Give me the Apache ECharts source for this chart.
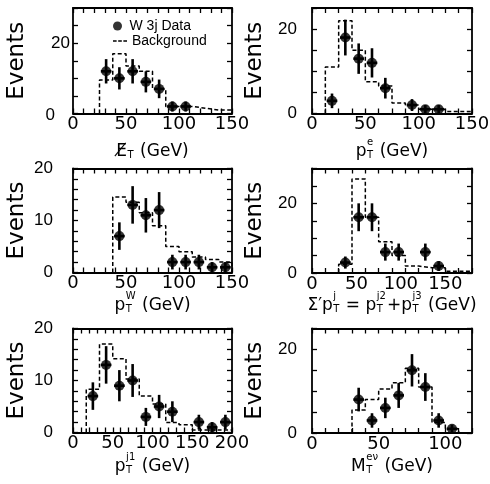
<!DOCTYPE html>
<html><head><meta charset="utf-8">
<script src="https://cdn.jsdelivr.net/npm/echarts@6/dist/echarts.min.js"></script>
<style>html,body{margin:0;padding:0;background:#fff}#c{width:490px;height:484px}</style>
</head><body><div id="c"></div>
<script>
// ---------------- DATA ----------------
// Panel 1: missing E_T
const met_binStart = 25, met_binWidth = 12.5;
const met_background = [9.5, 17, 13.5, 12, 7, 2, 2, 1.5, 1, 1];
const met_data = [12, 10, 12, 9, 7, 2, 2];
const met_xLabels = [0, 50, 100, 150];
const met_yLabels = [0, 20];
// Panel 2: electron pT
const pte_binStart = 12.5, pte_binWidth = 12.5;
const pte_background = [11, 22, 15, 7.5, 6.5, 2.5, 2, 1, 1, 0.5, 0.5];
const pte_data = [3, 18, 13, 12, 6, null, 2, 1, 1];
const pte_xLabels = [0, 50, 100, 150];
const pte_yLabels = [0, 20];
// Panel 3: W pT
const ptw_binStart = 37.5, ptw_binWidth = 12.5;
const ptw_background = [14.5, 13.5, 11.5, 9, 5, 4, 3, 2.5, 2];
const ptw_data = [7, 13, 11, 12, 2, 2, 2, 1, 1];
const ptw_xLabels = [0, 50, 100, 150];
const ptw_yLabels = [0, 10, 20];
// Panel 4: pT(j2)+pT(j3)
const sum_binStart = 30, sum_binWidth = 15;
const sum_background = [2.5, 27, 16, 9, 5, 2, 1.5, 1.5, 0.5, 0.5];
const sum_data = [3, 16, 16, 6, 6, null, 6, 2];
const sum_xLabels = [0, 50, 100, 150];
const sum_yLabels = [0, 20];
// Panel 5: leading jet pT
const ptj1_binStart = 200 / 12, ptj1_binWidth = 200 / 12;
const ptj1_background = [8.3, 17, 14.2, 10.3, 7, 5.5, 1.9, 1.5, 0.5, 0.5, 0.5];
const ptj1_data = [7, 13, 9, 10, 3, 5, 4, null, 2, 1, 2];
const ptj1_xLabels = [0, 50, 100, 150, 200];
const ptj1_yLabels = [0, 10, 20];
// Panel 6: transverse mass
const mt_binStart = 30, mt_binWidth = 10;
const mt_background = [5.5, 8, 10.5, 12, 15.5, 11, 2.5, 1];
const mt_data = [8, 3, 6, 9, 15, 11, 3, 1];
const mt_xLabels = [0, 50, 100];
const mt_yLabels = [0, 20];

const DATA_NAME = 'W 3j Data', BKG_NAME = 'Background';

// ---------------- LAYOUT ----------------
const panels = [
  {grid:[73,8,159,105.5], xr:[0,150], xStep:10, yr:[0,30], yStep:5, xLabels:met_xLabels, yLabels:met_yLabels,
   bs:met_binStart, bw:met_binWidth, bkg:met_background, data:met_data, yMargin:3, zeroPad:15, nameGap:44,
   title:['E\u0338',{sub:'T'},' (GeV)'], base:157},
  {grid:[312,8,160,105.5], xr:[0,150], xStep:12.5, yr:[0,25], yStep:5, xLabels:pte_xLabels, yLabels:pte_yLabels,
   bs:pte_binStart, bw:pte_binWidth, bkg:pte_background, data:pte_data, yMargin:15, zeroPad:0, nameGap:45,
   title:['p',{sup:'e',sub:'T'},' (GeV)'], base:157},
  {grid:[73,168.5,159,104], xr:[0,150], xStep:10, yr:[0,20], yStep:2, xLabels:ptw_xLabels, yLabels:ptw_yLabels,
   bs:ptw_binStart, bw:ptw_binWidth, bkg:ptw_background, data:ptw_data, yMargin:20, zeroPad:0, nameGap:44,
   title:['p',{sup:'W',sub:'T'},' (GeV)'], base:311},
  {grid:[312,168.5,160,104.5], xr:[0,180], xStep:15, yr:[0,30], yStep:5, xLabels:sum_xLabels, yLabels:sum_yLabels,
   bs:sum_binStart, bw:sum_binWidth, bkg:sum_background, data:sum_data, yMargin:15, zeroPad:0, nameGap:45,
   title:['\u03A3\u2032p',{sup:'j',sub:'T'},' = p',{sup:'j2',sub:'T'},'+p',{sup:'j3',sub:'T'},' (GeV)'], base:311},
  {grid:[73,328.5,159,104], xr:[0,200], xStep:10, yr:[0,20], yStep:2, xLabels:ptj1_xLabels, yLabels:ptj1_yLabels,
   bs:ptj1_binStart, bw:ptj1_binWidth, bkg:ptj1_background, data:ptj1_data, yMargin:20, zeroPad:0, nameGap:44,
   title:['p',{sup:'j1',sub:'T'},' (GeV)'], base:472},
  {grid:[312,328.5,160,104.5], xr:[0,120], xStep:10, yr:[0,25], yStep:5, xLabels:mt_xLabels, yLabels:mt_yLabels,
   bs:mt_binStart, bw:mt_binWidth, bkg:mt_background, data:mt_data, yMargin:15, zeroPad:0, nameGap:45,
   title:['M',{sup:'e\u03BD',sub:'T'},' (GeV)'], base:472}
];

function range(a, b, s){ const r=[]; for(let v=a; v<=b+1e-9; v+=s) r.push(+v.toFixed(6)); return r; }

const mctx = document.createElement('canvas').getContext('2d');
function tw(t, size){ mctx.font = size + 'px "DejaVu Sans"'; return mctx.measureText(t).width; }

function titleEls(cx, base, segs){
  const M = 17, S = 10;
  const items = []; let x = 0;
  segs.forEach(s => {
    if (typeof s === 'string'){ items.push({t:s, size:M, x, b:0}); x += tw(s, M); }
    else {
      let w = 0;
      if (s.sup){ items.push({t:s.sup, size:S, x: x + 0.5, b:-11.5}); w = Math.max(w, tw(s.sup, S)); }
      if (s.sub){ items.push({t:s.sub, size:S, x: x + 0.5, b:2}); w = Math.max(w, tw(s.sub, S)); }
      x += w + 1.5;
    }
  });
  const x0 = cx - x / 2;
  return items.map(it => ({
    type:'text', silent:true, x: x0 + it.x, y: base + it.b - 0.32 * it.size,
    style:{text:it.t, fill:'#000', fontSize:it.size, fontFamily:'DejaVu Sans',
           textAlign:'left', align:'left', textVerticalAlign:'middle', verticalAlign:'middle'}
  }));
}

const xAxes = [], yAxes = [], grids = [], series = [], graphics = [];
const lineSt = {color:'#000', width:1.8};
const tickSt = {color:'#000', width:1.3};
panels.forEach((p, i) => {
  grids.push({left:p.grid[0], top:p.grid[1], width:p.grid[2], height:p.grid[3], containLabel:false, outerBoundsMode:'none'});
  const xMinor = range(p.xr[0], p.xr[1], p.xStep);
  const yMinor = range(p.yr[0], p.yr[1], p.yStep);
  const base = {type:'value', gridIndex:i, splitLine:{show:false}};
  // x axes: bottom with labels, top with ticks only
  xAxes.push(Object.assign({}, base, {min:p.xr[0], max:p.xr[1], position:'bottom',
    axisLine:{show:true, onZero:false, lineStyle:lineSt},
    axisTick:{show:true, inside:true, length:5, customValues:xMinor, lineStyle:tickSt},
    axisLabel:{show:true, customValues:p.xLabels, margin:2, fontSize:18, fontFamily:'DejaVu Sans', color:'#000'}}));
  xAxes.push(Object.assign({}, base, {min:p.xr[0], max:p.xr[1], position:'top',
    axisLine:{show:true, onZero:false, lineStyle:lineSt},
    axisTick:{show:true, inside:true, length:5, customValues:xMinor, lineStyle:tickSt}, axisLabel:{show:false}}));
  // y axes: left with labels and title, right with ticks only
  const zp = p.zeroPad;
  yAxes.push(Object.assign({}, base, {min:p.yr[0], max:p.yr[1], position:'left',
    name:'Events', nameLocation:'middle', nameRotate:90, nameGap:p.nameGap,
    nameTextStyle:{fontSize:23, fontFamily:'DejaVu Sans', color:'#000'},
    axisLine:{show:true, onZero:false, lineStyle:lineSt},
    axisTick:{show:true, inside:true, length:5, customValues:yMinor, lineStyle:tickSt},
    axisLabel:{show:true, customValues:p.yLabels, margin:p.yMargin, fontSize:17, fontFamily:'Liberation Sans', color:'#000',
      formatter: v => (v === 0 && zp) ? '{z|0}' : String(v),
      rich:{z:{fontSize:17, fontFamily:'Liberation Sans', color:'#000', padding:[4,zp,0,0]}}}}));
  yAxes.push(Object.assign({}, base, {min:p.yr[0], max:p.yr[1], position:'right',
    axisLine:{show:true, onZero:false, lineStyle:lineSt},
    axisTick:{show:true, inside:true, length:5, customValues:yMinor, lineStyle:tickSt}, axisLabel:{show:false}}));

  const xi = 2 * i, yi = 2 * i;
  // background histogram outline from bin edges and heights
  const pts = [[p.bs, 0]];
  p.bkg.forEach((h, k) => { pts.push([p.bs + k * p.bw, h]); pts.push([p.bs + (k + 1) * p.bw, h]); });
  pts.push([p.bs + p.bkg.length * p.bw, 0]);
  series.push({type:'line', name:BKG_NAME, xAxisIndex:xi, yAxisIndex:yi, data:pts, showSymbol:false, symbol:'none',
    silent:true, animation:false, lineStyle:{color:'#000', width:1.5, type:[4,2.5]}, itemStyle:{color:'#000'}, z:2});
  // data points with sqrt(N) error bars
  const pd = [], eb = [];
  p.data.forEach((v, k) => {
    if (v === null) return;
    const c = p.bs + (k + 0.5) * p.bw;
    pd.push([c, v]);
    eb.push([c, v, Math.sqrt(v), 0.4 * p.bw]);
  });
  series.push({type:'custom', name:DATA_NAME + ' errors', xAxisIndex:xi, yAxisIndex:yi, data:eb, silent:true, animation:false, z:3,
    renderItem:(params, api) => {
      const x = api.value(0), y = api.value(1), e = api.value(2), h = api.value(3);
      const t = api.coord([x, y + e]), b = api.coord([x, y - e]);
      const l = api.coord([x - h, y]), r = api.coord([x + h, y]);
      return {type:'group', children:[
        {type:'line', shape:{x1:t[0], y1:t[1], x2:b[0], y2:b[1]}, style:{stroke:'#000', lineWidth:2.6}},
        {type:'line', shape:{x1:l[0], y1:l[1], x2:r[0], y2:r[1]}, style:{stroke:'#000', lineWidth:2.6}}
      ]};
    }});
  series.push({type:'scatter', name:DATA_NAME, xAxisIndex:xi, yAxisIndex:yi, data:pd, symbol:'circle', symbolSize:10,
    silent:true, animation:false, itemStyle:{color:'#000'}, z:4});
  // x-axis title
  const cx = p.grid[0] + p.grid[2] / 2;
  titleEls(cx, p.base, p.title).forEach(el => graphics.push(el));
});

const chart = echarts.init(document.getElementById('c'), null, {renderer:'canvas'});
chart.setOption({
  animation:false,
  backgroundColor:'#fff',
  grid:grids, xAxis:xAxes, yAxis:yAxes, series:series,
  legend:[
    {data:[{name:DATA_NAME, icon:'circle'}], left:113, top:19, padding:0, itemWidth:14, itemHeight:9, selectedMode:false,
     textStyle:{fontFamily:'Liberation Sans', fontSize:14, color:'#000'}},
    {data:[{name:BKG_NAME, icon:'path://M0,0h3.5v1.6h-3.5z M5,0h3.5v1.6h-3.5z M10,0h3.5v1.6h-3.5z'}],
     left:113, top:34, padding:0, itemWidth:14, itemHeight:9, selectedMode:false, symbolKeepAspect:true,
     itemStyle:{color:'#000', borderWidth:0},
     textStyle:{fontFamily:'Liberation Sans', fontSize:14, color:'#000'}}
  ],
  graphic:graphics
});
</script>
</body></html>
